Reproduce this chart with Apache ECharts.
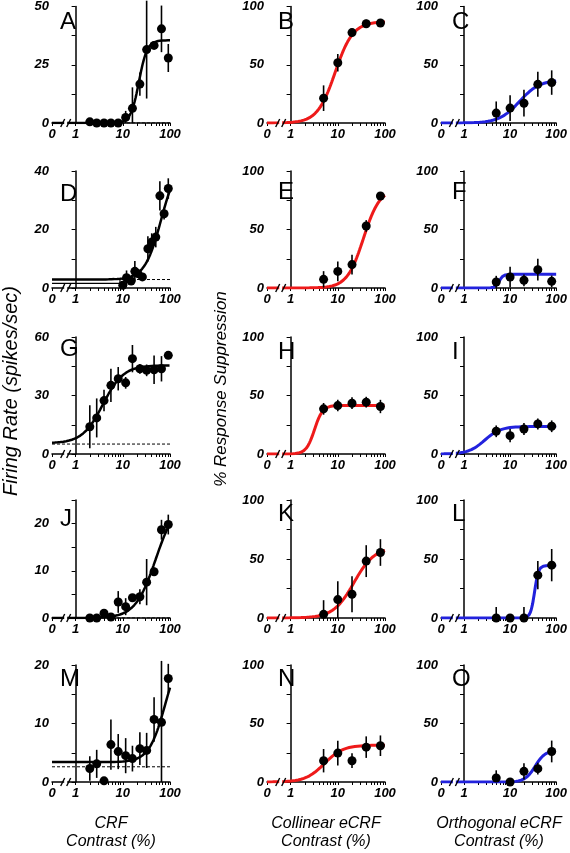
<!DOCTYPE html>
<html><head><meta charset="utf-8">
<script src="https://cdn.jsdelivr.net/npm/echarts@6/dist/echarts.min.js"></script>
<style>html,body{margin:0;padding:0;background:#fff}#c{width:570px;height:853px}</style>
</head><body><div id="c"></div>
<script>
// ---------- data ----------
const crfContrast  = [2, 2.8, 4, 5.6, 8, 11.5, 16, 23, 32, 46, 66, 92];
const dContrast    = [10, 12, 15, 18, 21, 26, 34, 41, 50, 61, 75, 92];
const ecrfContrast = [5, 10, 20, 40, 80];

const xTickLabels = ['0', '1', '10', '100'];
const xLabelContrast = [0, 1, 10, 100];

// CRF panels (firing rate, spikes/sec)
const aValues = [0.5, 0, 0, 0, 0, 2.4, 6.3, 16.7, 31.5, 33.3, 40.4, 27.9];
const aErr    = [0.5, 0, 0, 0, 0.3, 2.8, 9, 5, 21, 1.5, 10, 6];
const dValues = [0.9, 3.5, 2.4, 5.7, 4.9, 3.8, 13.4, 15.7, 17.4, 31.5, 25.4, 34];
const dErr    = [0.5, 2.5, 1, 3.5, 1.5, 1, 4.3, 3, 3.5, 5, 2, 3.5];
const gValues = [14, 18.5, 27.4, 35.2, 38.6, 36.5, 48.9, 43.7, 42.9, 43.2, 43.7, 50.6];
const gErr    = [11, 10, 5.5, 8.5, 6, 3, 7, 2.5, 3, 7.3, 6.5, 1.7];
const jValues = [0, 0, 1.0, 0.2, 3.4, 2.4, 4.3, 4.5, 7.6, 9.8, 18.7, 19.8];
const jErr    = [0.2, 0.2, 0.5, 0.2, 2.3, 1.8, 0.5, 1.6, 4.9, 0.9, 2.1, 2.1];
const mValues = [2.3, 3.1, 0.2, 6.4, 5.2, 4.5, 4.0, 5.7, 5.4, 10.7, 10.2, 17.7];
const mErr    = [2.1, 2.4, 0.2, 4.3, 3, 3, 2.2, 2.8, 3, 3.8, 10.5, 2.5];

// eCRF panels (% response suppression)
const bValues = [21.3, 51.7, 77.6, 85.2, 85.8];  const bErr = [11, 7.5, 3.5, 3.5, 2];
const cValues = [8.5, 12.8, 17, 33.2, 34.7];     const cErr = [10, 11, 11.5, 10.7, 10.5];
const eValues = [7.4, 14.2, 20, 53, 78.6];       const eErr = [7, 8.5, 8.5, 5, 2];
const fValues = [5.1, 9.4, 6.6, 15.7, 5.7];      const fErr = [5.3, 8.8, 5, 9.3, 5];
const hValues = [38.6, 41.4, 43.4, 44.3, 40.6];  const hErr = [5, 4.9, 5, 4.6, 5.7];
const iValues = [19.4, 15.7, 21.4, 25.7, 23.7];  const iErr = [5, 5.7, 5.1, 4.7, 5];
const kValues = [3.1, 15.6, 20.1, 48.2, 55.5];   const kErr = [12, 15.5, 15.3, 13.5, 11.3];
const lValues = [0, 0, 0, 36.3, 44.8];           const lErr = [9.3, 0, 9.3, 12, 13.7];
const nValues = [18.2, 24.7, 18.2, 29.8, 31];    const nErr = [10, 10.5, 6.3, 9.2, 8.8];
const oValues = [3.4, 0, 9.1, 11.4, 26.1];       const oErr = [6.6, 0, 7, 5, 9.3];

// Naka-Rushton fit parameters: [baseline, Rmax, C50, n]
const aFit = [0, 35.5, 22, 5];
const dFit = [2.9, 41, 65, 2.5];
const gFit = [5.5, 40, 3.8, 2];
const jFit = [0, 25, 50, 2];
const mFit = [3.4, 20, 80, 2.5];
const bFit = [0, 87, 8.8, 2.3];
const cFit = [0, 37, 16, 2];
const eFit = [0, 85, 35, 2.5];
const fFit = [0, 11.7, 5.8, 10];
const hFit = [0, 41.5, 3.2, 5];
const iFit = [0, 23.5, 2.8, 2.5];
const kFit = [0, 60, 22, 2];
const lFit = [0, 44.5, 34, 10];
const nFit = [0, 31.5, 5.2, 2.2];
const oFit = [0, 27, 35, 4];

// spontaneous-rate (dashed) baselines
const aSpont = 0, dSpont = 2.9, gSpont = 5.1, jSpont = 0, mSpont = 2.6;
// extra thin segment seen in panel D
const dExtraContrast = [0, 8.7, 8.7];
const dExtraValues   = [1.6, 1.6, 2.9];

// ---------- layout ----------
const colLeft = [52, 267, 441], colWidth = 118;
const rowTop = [6, 171, 337, 500, 665], rowHeight = [117, 117, 117, 118, 117];
const FONT = 'Liberation Sans, Arial, sans-serif';
const RED = '#ee1a1a', BLUE = '#2222dd';
const BREAK_T = -0.21;

function xPos(c) { return c <= 0 ? -0.5 : Math.log10(c); }
function naka(p, c) { const [b, r, c50, n] = p; const cn = Math.pow(c, n); return b + r * cn / (cn + Math.pow(c50, n)); }

const panels = [
  {id:'A', row:0, col:0, ymax:50, ylab:[0,25,50], ytick:12.5, x:crfContrast, v:aValues, e:aErr, fit:aFit, color:'#000', spont:aSpont, cap:7},
  {id:'B', row:0, col:1, ymax:100, ylab:[0,50,100], ytick:25, x:ecrfContrast, v:bValues, e:bErr, fit:bFit, color:RED, cap:7},
  {id:'C', row:0, col:2, ymax:100, ylab:[0,50,100], ytick:25, x:ecrfContrast, v:cValues, e:cErr, fit:cFit, color:BLUE, cap:7},
  {id:'D', row:1, col:0, ymax:40, ylab:[0,20,40], ytick:10, x:dContrast, v:dValues, e:dErr, fit:dFit, color:'#000', spont:dSpont, cap:14},
  {id:'E', row:1, col:1, ymax:100, ylab:[0,50,100], ytick:25, x:ecrfContrast, v:eValues, e:eErr, fit:eFit, color:RED, cap:12},
  {id:'F', row:1, col:2, ymax:100, ylab:[0,50,100], ytick:25, x:ecrfContrast, v:fValues, e:fErr, fit:fFit, color:BLUE, cap:12},
  {id:'G', row:2, col:0, ymax:60, ylab:[0,30,60], ytick:15, x:crfContrast, v:gValues, e:gErr, fit:gFit, color:'#000', spont:gSpont, cap:3},
  {id:'H', row:2, col:1, ymax:100, ylab:[0,50,100], ytick:25, x:ecrfContrast, v:hValues, e:hErr, fit:hFit, color:RED, cap:6},
  {id:'I', row:2, col:2, ymax:100, ylab:[0,50,100], ytick:25, x:ecrfContrast, v:iValues, e:iErr, fit:iFit, color:BLUE, cap:6},
  {id:'J', row:3, col:0, ymax:25, ylab:[0,10,20], ytick:5, x:crfContrast, v:jValues, e:jErr, fit:jFit, color:'#000', spont:jSpont, cap:10},
  {id:'K', row:3, col:1, ymax:100, ylab:[0,50,100], ytick:25, x:ecrfContrast, v:kValues, e:kErr, fit:kFit, color:RED, cap:5},
  {id:'L', row:3, col:2, ymax:100, ylab:[0,50,100], ytick:25, x:ecrfContrast, v:lValues, e:lErr, fit:lFit, color:BLUE, cap:5},
  {id:'M', row:4, col:0, ymax:20, ylab:[0,10,20], ytick:5, x:crfContrast, v:mValues, e:mErr, fit:mFit, color:'#000', spont:mSpont, cap:5},
  {id:'N', row:4, col:1, ymax:100, ylab:[0,50,100], ytick:25, x:ecrfContrast, v:nValues, e:nErr, fit:nFit, color:RED, cap:5},
  {id:'O', row:4, col:2, ymax:100, ylab:[0,50,100], ytick:25, x:ecrfContrast, v:oValues, e:oErr, fit:oFit, color:BLUE, cap:5}
];

const xMinor = [-0.5];
for (let d = 0; d < 2; d++) for (let k = 1; k <= 9; k++) xMinor.push(Math.log10(k * Math.pow(10, d)));
xMinor.push(2);
const xLabelPos = xLabelContrast.map(xPos);

const curveT = [];
for (let i = 0; i <= 250; i++) curveT.push(-0.5 + i * 0.01);

const grid = [], xAxis = [], yAxis = [], series = [], title = [];
panels.forEach((p, i) => {
  const L = colLeft[p.col], T = rowTop[p.row];
  grid.push({left: L, top: T, width: colWidth, height: rowHeight[p.row], containLabel: false});
  xAxis.push({
    type: 'value', gridIndex: i, min: -0.5, max: 2,
    axisLine: {show: true, lineStyle: {color: '#000', width: 1.5}},
    axisTick: {show: true, customValues: xMinor, length: 3, inside: false, lineStyle: {color: '#000', width: 1}},
    axisLabel: {show: true, customValues: xLabelPos, margin: 5, color: '#000', fontFamily: FONT, fontStyle: 'italic', fontWeight: 'bold', fontSize: 13,
      formatter: v => { const k = xLabelPos.findIndex(q => Math.abs(q - v) < 1e-6); return k >= 0 ? xTickLabels[k] : ''; }},
    splitLine: {show: false}
  });
  const yt = [];
  for (let v = 0; v <= p.ymax + 1e-9; v += p.ytick) yt.push(+v.toFixed(4));
  yAxis.push({
    type: 'value', gridIndex: i, min: 0, max: p.ymax,
    axisLine: {show: true, lineStyle: {color: '#000', width: 1.5}},
    axisTick: {show: true, customValues: yt, length: 4, inside: false, lineStyle: {color: '#000', width: 1}},
    axisLabel: {show: true, customValues: p.ylab, margin: 3, color: '#000', fontFamily: FONT, fontStyle: 'italic', fontWeight: 'bold', fontSize: 13},
    splitLine: {show: false}
  });
  title.push({text: p.id, left: L + (p.col === 0 ? 8 : 11), top: T + p.cap - 3, padding: 0,
    textStyle: {fontSize: 24, fontWeight: 'normal', color: '#000', fontFamily: FONT}});

  if (p.spont !== undefined) {
    series.push({type: 'line', xAxisIndex: i, yAxisIndex: i, silent: true, symbol: 'none', z: 1,
      data: [[xPos(0), p.spont], [xPos(100), p.spont]],
      lineStyle: {color: '#000', width: 1, type: [3, 2]}});
  }
  series.push({type: 'line', xAxisIndex: i, yAxisIndex: i, silent: true, symbol: 'none', z: 2,
    data: curveT.map(t => [t, naka(p.fit, Math.pow(10, t))]),
    lineStyle: {color: p.color, width: p.color === '#000' ? 2.5 : 3}});
  if (p.id === 'D') {
    series.push({type: 'line', xAxisIndex: i, yAxisIndex: i, silent: true, symbol: 'none', z: 2,
      data: dExtraContrast.map((c, k) => [xPos(c), dExtraValues[k]]),
      lineStyle: {color: '#000', width: 1.2}});
  }
  series.push({type: 'custom', xAxisIndex: i, yAxisIndex: i, silent: true, z: 3,
    data: p.x.map((c, k) => [xPos(c), Math.max(0, p.v[k] - p.e[k]), p.v[k] + p.e[k]]),
    renderItem: (params, api) => {
      const a = api.coord([api.value(0), api.value(1)]);
      const b = api.coord([api.value(0), api.value(2)]);
      return {type: 'line', shape: {x1: a[0], y1: a[1], x2: b[0], y2: b[1]}, style: {stroke: '#000', lineWidth: 1.6}};
    }});
  series.push({type: 'scatter', xAxisIndex: i, yAxisIndex: i, silent: true, z: 4, symbol: 'circle', symbolSize: 9,
    itemStyle: {color: '#000', opacity: 1}, data: p.x.map((c, k) => [xPos(c), p.v[k]])});
  series.push({type: 'custom', xAxisIndex: i, yAxisIndex: i, silent: true, z: 6,
    data: [[BREAK_T, 0]],
    renderItem: (params, api) => {
      const q = api.coord([api.value(0), api.value(1)]);
      const x = q[0], y = q[1];
      return {type: 'group', children: [
        {type: 'rect', shape: {x: x - 1.5, y: y - 3, width: 3, height: 6}, style: {fill: '#fff'}},
        {type: 'line', shape: {x1: x - 5, y1: y + 4, x2: x - 1, y2: y - 4}, style: {stroke: '#000', lineWidth: 1.4}},
        {type: 'line', shape: {x1: x + 1, y1: y + 4, x2: x + 5, y2: y - 4}, style: {stroke: '#000', lineWidth: 1.4}}
      ]};
    }});
});

const tstyle = {fill: '#000', textAlign: 'center', textVerticalAlign: 'middle'};
const graphic = [
  {type: 'text', x: 11, y: 391, rotation: Math.PI / 2, style: Object.assign({text: 'Firing Rate (spikes/sec)', font: 'italic 20px ' + FONT}, tstyle)},
  {type: 'text', x: 221, y: 389, rotation: Math.PI / 2, style: Object.assign({text: '% Response Suppression', font: 'italic 17px ' + FONT}, tstyle)},
  {type: 'text', x: 111, y: 824, style: Object.assign({text: 'CRF', font: 'italic 16px ' + FONT}, tstyle)},
  {type: 'text', x: 111, y: 842, style: Object.assign({text: 'Contrast (%)', font: 'italic 16px ' + FONT}, tstyle)},
  {type: 'text', x: 326, y: 824, style: Object.assign({text: 'Collinear eCRF', font: 'italic 16px ' + FONT}, tstyle)},
  {type: 'text', x: 326, y: 842, style: Object.assign({text: 'Contrast (%)', font: 'italic 16px ' + FONT}, tstyle)},
  {type: 'text', x: 499, y: 824, style: Object.assign({text: 'Orthogonal eCRF', font: 'italic 16px ' + FONT}, tstyle)},
  {type: 'text', x: 499, y: 842, style: Object.assign({text: 'Contrast (%)', font: 'italic 16px ' + FONT}, tstyle)}
];

const chart = echarts.init(document.getElementById('c'), null, {renderer: 'canvas', width: 570, height: 853});
chart.setOption({animation: false, backgroundColor: '#fff', title, grid, xAxis, yAxis, series, graphic});
</script></body></html>
